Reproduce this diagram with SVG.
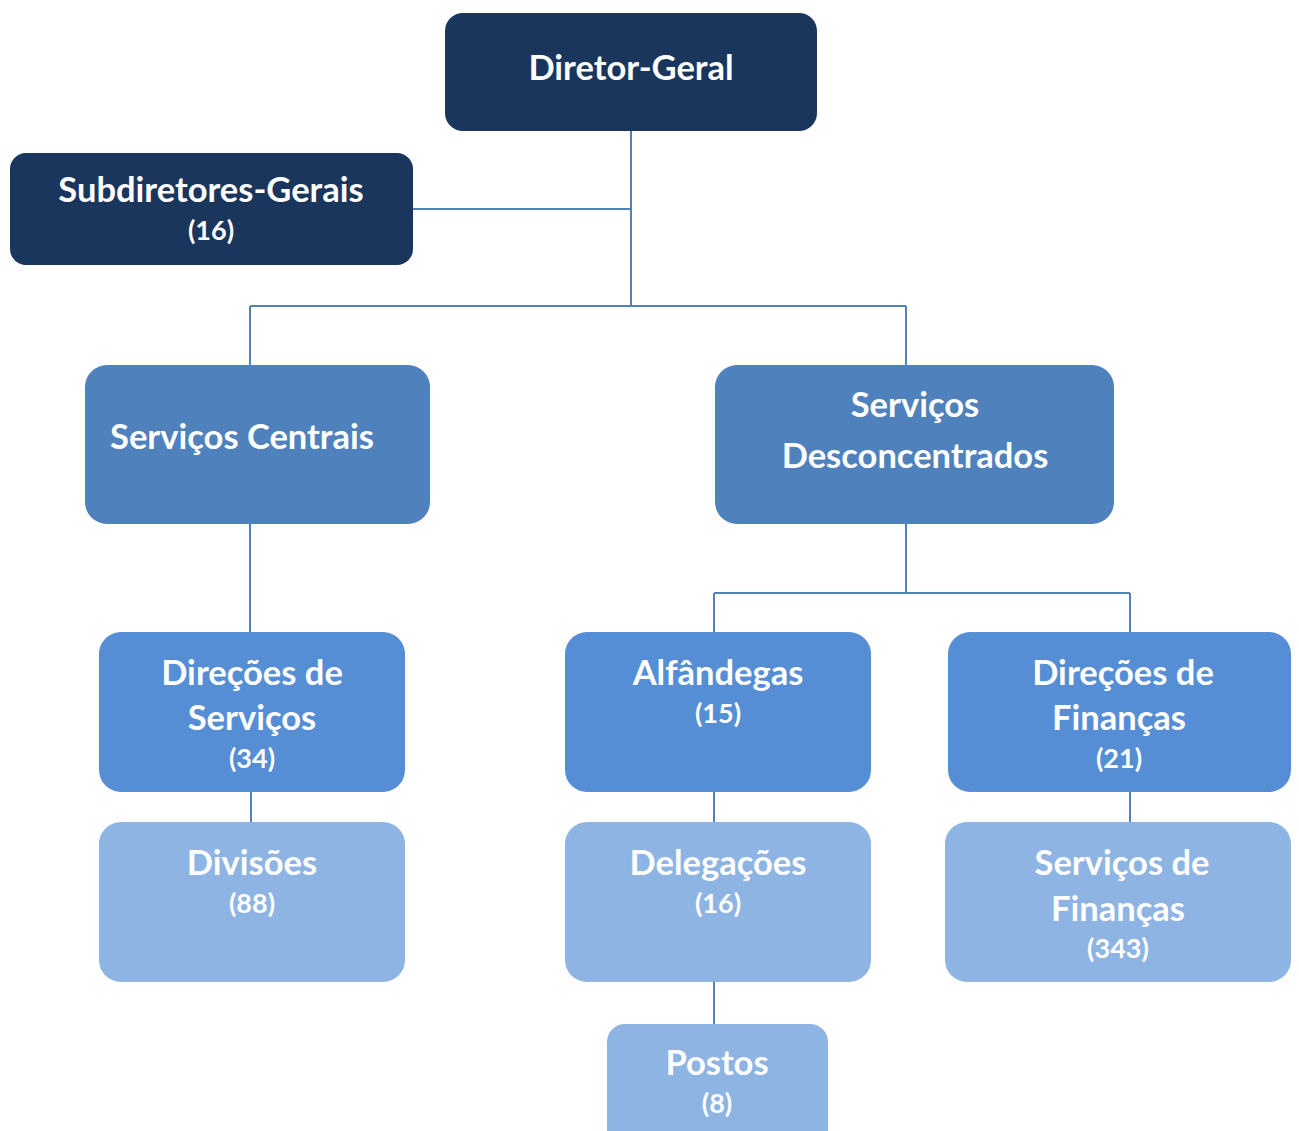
<svg xmlns="http://www.w3.org/2000/svg" width="1299" height="1131" viewBox="0 0 1299 1131">
<style>
.t{font-family:Lato,"Noto Sans","Liberation Sans",sans-serif;font-weight:bold;fill:#fff;text-anchor:middle}
.big{font-size:34.5px}
.sm{font-size:27px}
.c{stroke:#4f81bd;stroke-width:2;fill:none}
.d{fill:#1b365d}
.m{fill:#4f81bd}
.l{fill:#558ed5}
.p{fill:#8eb4e3}
</style>
<rect width="1299" height="1131" fill="#fff"/>
<g id="connectors">
<path class="c" d="M631,131V306M413,209H631M250,306H906M250,306V365M906,306V365"/>
<path class="c" d="M250,524V632M906,524V593M714,593H1130M714,593V632M1130,593V632"/>
<path class="c" d="M251,792V822M714,792V822M1130,792V822M714,982V1024"/>
</g>
<g id="diretor-geral"><rect class="d" x="445" y="13" width="372" height="118" rx="18"/><text class="t big" x="631" y="80">Diretor-Geral</text></g>
<g id="subdiretores"><rect class="d" x="10" y="153" width="403" height="112" rx="16"/><text class="t big" x="211" y="202">Subdiretores-Gerais</text><text class="t sm" x="211" y="240">(16)</text></g>
<g id="servicos-centrais"><rect class="m" x="85" y="365" width="345" height="159" rx="22"/><text class="t big" x="242" y="449">Serviços Centrais</text></g>
<g id="servicos-desconcentrados"><rect class="m" x="715" y="365" width="399" height="159" rx="22"/><text class="t big" x="915" y="417">Serviços</text><text class="t big" x="915" y="468">Desconcentrados</text></g>
<g id="direcoes-servicos"><rect class="l" x="99" y="632" width="306" height="160" rx="22"/><text class="t big" x="252" y="685">Direções de</text><text class="t big" x="252" y="730">Serviços</text><text class="t sm" x="252" y="768">(34)</text></g>
<g id="alfandegas"><rect class="l" x="565" y="632" width="306" height="160" rx="22"/><text class="t big" x="718" y="685">Alfândegas</text><text class="t sm" x="718" y="723">(15)</text></g>
<g id="direcoes-financas"><rect class="l" x="948" y="632" width="343" height="160" rx="22"/><text class="t big" x="1123" y="685">Direções de</text><text class="t big" x="1119" y="730">Finanças</text><text class="t sm" x="1119" y="768">(21)</text></g>
<g id="divisoes"><rect class="p" x="99" y="822" width="306" height="160" rx="22"/><text class="t big" x="252" y="875">Divisões</text><text class="t sm" x="252" y="913">(88)</text></g>
<g id="delegacoes"><rect class="p" x="565" y="822" width="306" height="160" rx="22"/><text class="t big" x="718" y="875">Delegações</text><text class="t sm" x="718" y="913">(16)</text></g>
<g id="servicos-financas"><rect class="p" x="945" y="822" width="346" height="160" rx="22"/><text class="t big" x="1122" y="875">Serviços de</text><text class="t big" x="1118" y="921">Finanças</text><text class="t sm" x="1118" y="958">(343)</text></g>
<g id="postos"><rect class="p" x="607" y="1024" width="221" height="130" rx="18"/><text class="t big" x="717" y="1075">Postos</text><text class="t sm" x="717" y="1113">(8)</text></g>
</svg>
